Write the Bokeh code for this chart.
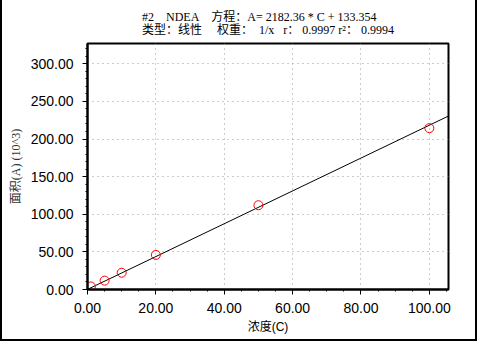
from bokeh.plotting import figure
from bokeh.models import Title, FixedTicker, Range1d, NumeralTickFormatter
from bokeh.embed import file_html
from bokeh.resources import INLINE

# ---- data ----
conc = [1, 5, 10, 20, 50, 100]
area = [4.0, 11.8, 22.3, 46.0, 112.0, 214.5]
slope = 2182.36
intercept = 133.354
x_ticks = [0, 20, 40, 60, 80, 100]
y_ticks = [0, 50, 100, 150, 200, 250, 300]
x_minor = list(range(0, 106, 5))
y_minor = list(range(0, 327, 10))
NB = "\u00a0"
title1 = "#2" + NB * 4 + "NDEA" + NB * 4 + "方程：A=" + NB + "2182.36" + NB + "*" + NB + "C" + NB + "+" + NB + "133.354"
title2 = "类型：线性" + NB * 5 + "权重：" + NB * 2 + "1/x" + NB * 3 + "r：" + NB + "0.9997" + NB + "r²：" + NB + "0.9994"
x_label = "浓度(C)"
y_label = "面积(A) (10^3)"
x_lim = (0, 105.6)
y_lim = (0, 327)

line_x = [x_lim[0], x_lim[1]]
line_y = [(slope * c + intercept) / 1000.0 for c in line_x]

SERIF = "'Liberation Serif', 'Noto Sans CJK SC', serif"
SANS = "'Liberation Sans', 'Noto Sans CJK SC', sans-serif"

p = figure(width=477, height=341, output_backend="svg", toolbar_location=None,
           x_range=Range1d(*x_lim), y_range=Range1d(*y_lim),
           min_border_left=85, min_border_right=31, min_border_top=43, min_border_bottom=52)
p.styles = {"border-left": "2px solid black", "border-right": "2px solid black",
            "border-bottom": "2px solid black"}

p.title.visible = False
p.add_layout(Title(text=title1 + "\n" + title2, text_font=SERIF, text_font_size="12px",
                   text_font_style="normal", text_color="#000000", align="center",
                   offset=-25, standoff=12, text_line_height=0.95), "above")

p.outline_line_color = "black"
p.outline_line_width = 2
p.background_fill_color = "white"
p.border_fill_color = "white"

p.xaxis.ticker = FixedTicker(ticks=x_ticks, minor_ticks=x_minor)
p.yaxis.ticker = FixedTicker(ticks=y_ticks, minor_ticks=y_minor)
p.xgrid.ticker = FixedTicker(ticks=x_ticks)
p.ygrid.ticker = FixedTicker(ticks=y_ticks)
for ax in (p.xaxis, p.yaxis):
    ax.formatter = NumeralTickFormatter(format="0.00")
    ax.axis_line_color = "black"
    ax.axis_line_width = 2
    ax.major_tick_line_color = "black"
    ax.minor_tick_line_color = "black"
    ax.major_tick_in = 0
    ax.major_tick_out = 5
    ax.minor_tick_in = 0
    ax.minor_tick_out = 2
    ax.major_label_text_font = "Liberation Sans"
    ax.major_label_text_font_size = "14px"
    ax.major_label_text_color = "#000000"
    ax.axis_label_text_font_style = "normal"

p.xaxis.major_label_standoff = 8
p.yaxis.major_label_standoff = 9
p.xaxis.axis_label = x_label
p.xaxis.axis_label_text_font = SANS
p.xaxis.axis_label_text_font_size = "12px"
p.xaxis.axis_label_text_color = "#000000"
p.xaxis.axis_label_standoff = 4
p.yaxis.axis_label = y_label
p.yaxis.axis_label_text_font = SERIF
p.yaxis.axis_label_text_font_size = "12px"
p.yaxis.axis_label_text_color = "#333333"
p.yaxis.axis_label_standoff = 5

for g in (p.xgrid, p.ygrid):
    g.grid_line_color = "#999999"
    g.grid_line_dash = "1 4"
    g.grid_line_width = 1

p.line(line_x, line_y, line_color="black", line_width=1)
p.scatter(conc, area, marker="circle", size=9, fill_color=None, line_color="red", line_width=1)

open("out.html", "w").write(file_html(p, INLINE))
